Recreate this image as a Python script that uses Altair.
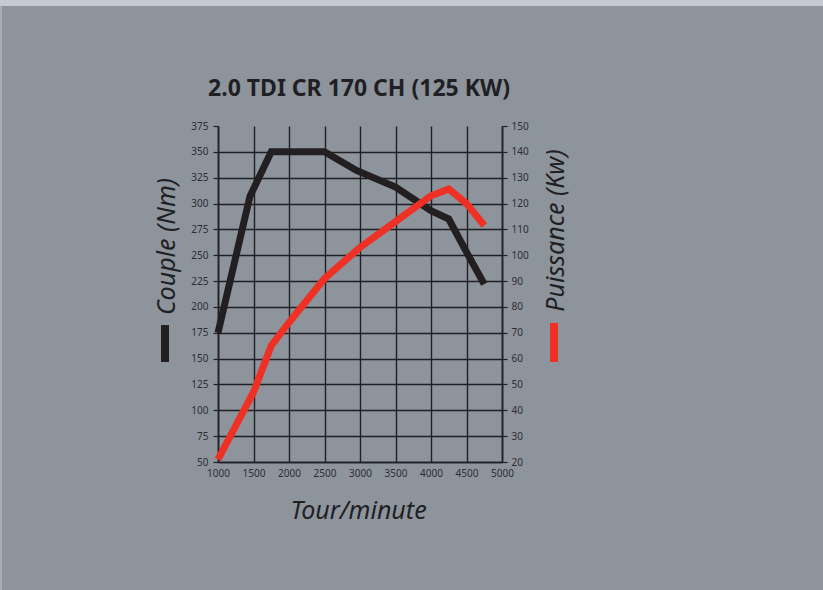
import altair as alt
import pandas as pd

# Torque curve (Nm) vs engine speed
rpm_torque = [1000, 1450, 1750, 2500, 2950, 3500, 4000, 4250, 4500, 4750]
torque_nm = [175, 307, 350, 350, 332, 316, 293, 285, 253, 222]

# Power curve (kW) vs engine speed
rpm_power = [1000, 1500, 1750, 2000, 2500, 3000, 3500, 4000, 4250, 4500, 4750]
power_kw = [21, 47, 65, 74, 91, 103, 113, 123, 125.6, 120, 111.5]

x_ticks = list(range(1000, 5001, 500))
left_ticks = list(range(50, 376, 25))
right_ticks = list(range(20, 151, 10))

chart_title = "2.0 TDI CR 170 CH (125 KW)"

torque_df = pd.DataFrame({"rpm": rpm_torque, "value": torque_nm})
power_df = pd.DataFrame({"rpm": rpm_power, "value": power_kw})

BG = "#8e949c"
INK = "#1f1f24"
LABEL = "#2c2e36"
BLACK = "#231f20"
RED = "#ee3124"
FONT = "Noto Sans"

W, H = 284, 336

x_enc = alt.X(
    "rpm:Q",
    scale=alt.Scale(domain=[1000, 5000], nice=False, zero=False),
    axis=alt.Axis(
        values=x_ticks, format="d", title="Tour/minute", grid=True, gridColor=INK, gridWidth=1.4,
        ticks=False, tickSize=0, labelPadding=6, labelFontSize=10, labelColor=LABEL,
        labelFont=FONT, domainColor=INK, domainWidth=1.6,
        titleFont=FONT, titleFontSize=25, titleFontStyle="italic", titleFontWeight="normal",
        titleColor=INK, titleX=140, titleY=56, titleAlign="center", titleBaseline="alphabetic",
        labelFlush=False,
    ),
)

torque = alt.Chart(torque_df).mark_line(
    color=BLACK, strokeWidth=7, strokeJoin="miter", strokeCap="butt"
).encode(
    x=x_enc,
    y=alt.Y(
        "value:Q",
        scale=alt.Scale(domain=[50, 375], nice=False, zero=False),
        axis=alt.Axis(
            orient="left", values=left_ticks, format="d", title="Couple (Nm)", grid=True,
            gridColor=INK, gridWidth=1.4,
            gridOpacity={"condition": {"test": "datum.value == 375", "value": 0}, "value": 1},
            tickSize=5, tickColor=INK, tickWidth=1.2, labelPadding=5,
            labelFontSize=10, labelColor=LABEL, labelFont=FONT,
            domainColor=INK, domainWidth=1.6,
            titleFont=FONT, titleFontSize=25, titleFontStyle="italic", titleFontWeight="normal",
            titleColor=INK, titleAngle=270, titleX=-52, titleY=120,
            titleAlign="center", titleBaseline="middle",
        ),
    ),
)

power = alt.Chart(power_df).mark_line(
    color=RED, strokeWidth=7, strokeJoin="miter", strokeCap="butt"
).encode(
    x=x_enc,
    y=alt.Y(
        "value:Q",
        scale=alt.Scale(domain=[20, 150], nice=False, zero=False),
        axis=alt.Axis(
            orient="right", values=right_ticks, format="d", title="Puissance (Kw)", grid=False,
            tickSize=5, tickColor=INK, tickWidth=1.2, labelPadding=4,
            labelFontSize=10, labelColor=LABEL, labelFont=FONT,
            domainColor=INK, domainWidth=1.6,
            titleFont=FONT, titleFontSize=25, titleFontStyle="italic", titleFontWeight="normal",
            titleColor=INK, titleAngle=270, titleX=53, titleY=104,
            titleAlign="center", titleBaseline="middle",
        ),
    ),
)

one = alt.Data(values=[{"k": 1}])

top_strip = alt.Chart(one).mark_rect(color="#c5c9d0").encode(
    x=alt.value(-218), x2=alt.value(605), y=alt.value(-126), y2=alt.value(-120)
)
left_strip = alt.Chart(one).mark_rect(color="#a9aeb5").encode(
    x=alt.value(-218), x2=alt.value(-216), y=alt.value(-120), y2=alt.value(464)
)
left_swatch = alt.Chart(one).mark_rect(color=BLACK).encode(
    x=alt.value(-57), x2=alt.value(-49), y=alt.value(199), y2=alt.value(236)
)
right_swatch = alt.Chart(one).mark_rect(color=RED).encode(
    x=alt.value(332), x2=alt.value(340), y=alt.value(197), y2=alt.value(236)
)
title_text = alt.Chart(one).mark_text(
    font=FONT, fontSize=23, fontWeight="bold", color=INK, align="center", baseline="alphabetic"
).encode(x=alt.value(141), y=alt.value(-30), text=alt.value(chart_title))

chart = (
    alt.layer(torque, power)
    .resolve_scale(y="independent")
)
chart = alt.layer(chart, top_strip, left_strip, left_swatch, right_swatch, title_text).properties(
    width=W,
    height=H,
    autosize=alt.AutoSizeParams(type="none"),
    padding={"left": 218, "top": 126, "right": 823 - 218 - W, "bottom": 590 - 126 - H},
    background=BG,
).configure_view(stroke=None)

chart.save("out.html", embed_options={"renderer": "svg", "actions": False})
